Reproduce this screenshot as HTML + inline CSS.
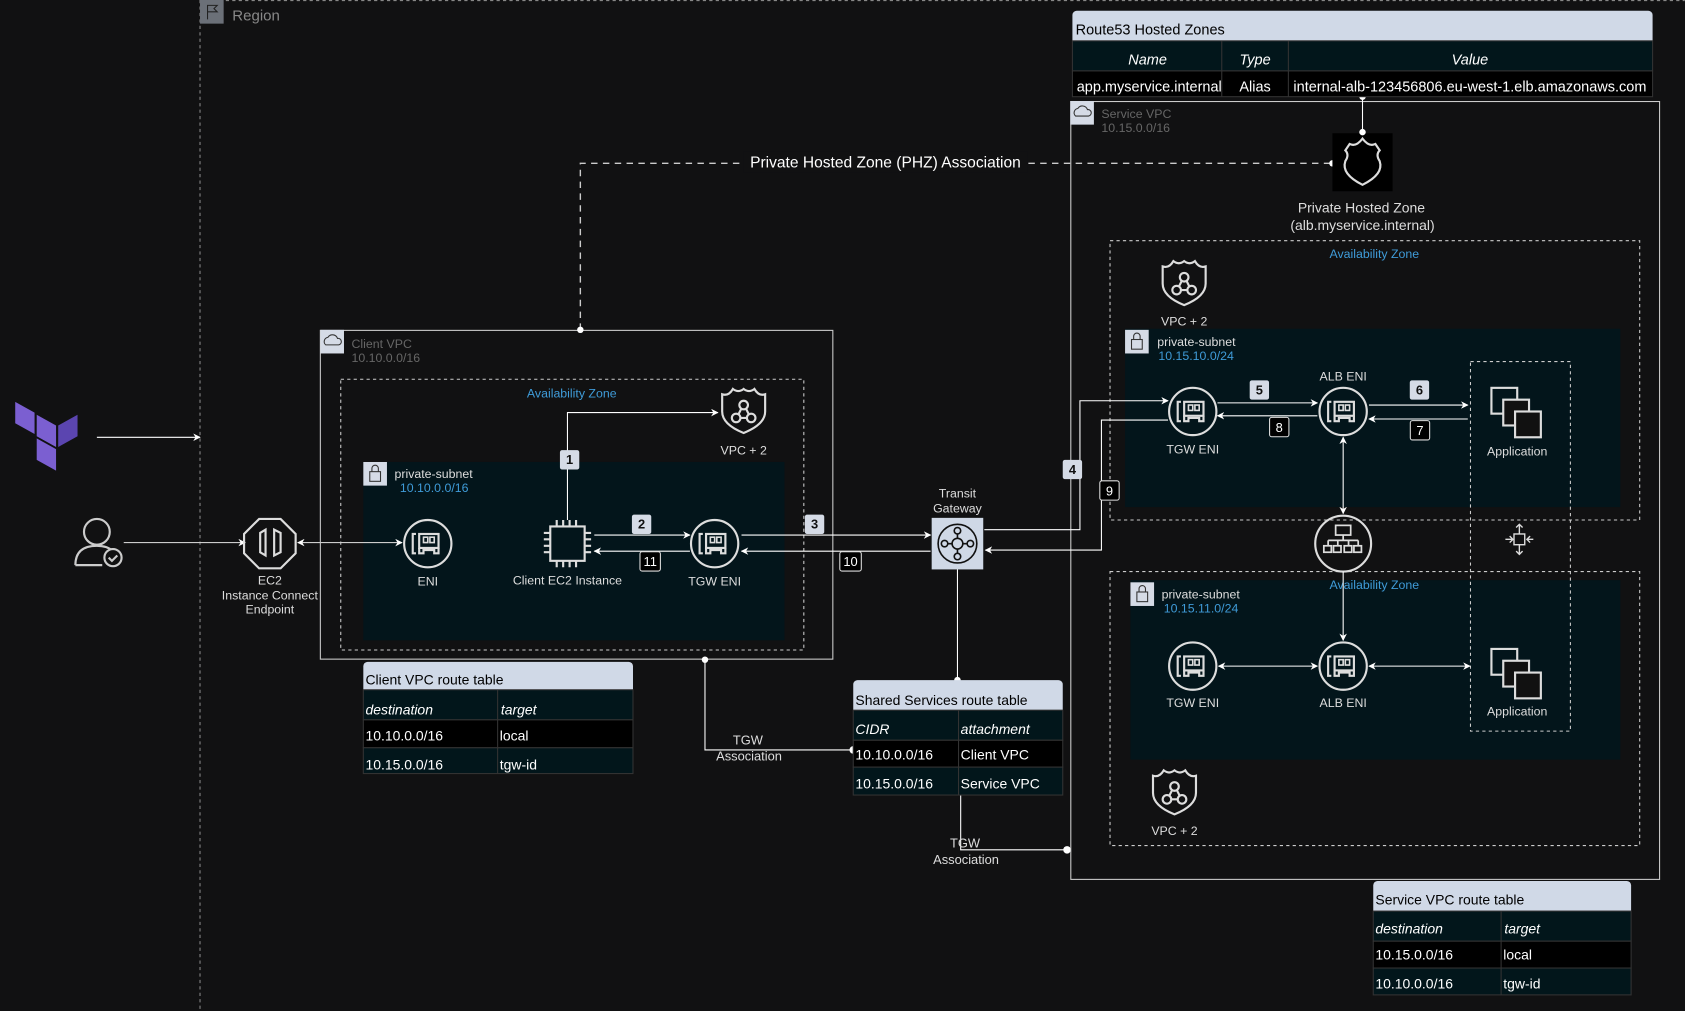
<!DOCTYPE html>
<html><head><meta charset="utf-8"><style>
html,body{margin:0;padding:0;background:#111112;}
svg{display:block;}
text{font-family:"Liberation Sans",sans-serif;}
</style></head><body>
<svg width="1685" height="1011" viewBox="0 0 1568 941" xmlns="http://www.w3.org/2000/svg">
<defs>
<marker id="a" viewBox="0 0 10 10" refX="9" refY="5" markerWidth="7" markerHeight="7" orient="auto-start-reverse"><path d="M0,0 L10,5 L0,10 L3,5 z" fill="#fff"/></marker>
<g id="eni"><circle r="22" fill="none" stroke="#ddd" stroke-width="2"/><path d="M-11,-9 h-3 v18 h3" fill="none" stroke="#ddd" stroke-width="2"/><rect x="-8" y="-9" width="18" height="13" fill="none" stroke="#ddd" stroke-width="2"/><rect x="-4" y="-6" width="4" height="5" fill="none" stroke="#ddd" stroke-width="1.5"/><rect x="2" y="-6" width="4" height="5" fill="none" stroke="#ddd" stroke-width="1.5"/><path d="M-8,4 v5 h4 v-3 h10 v3 h4 v-5" fill="none" stroke="#ddd" stroke-width="2"/></g>
<g id="vpc"><path d="M-20,-16 q6,2 10,-5 q5,4 10,0 q5,4 10,0 q4,7 10,5 v16 q0,12 -20,20 q-20,-8 -20,-20z" fill="none" stroke="#ddd" stroke-width="2"/><circle cx="0" cy="-6" r="4" fill="none" stroke="#ddd" stroke-width="2"/><circle cx="-7" cy="6" r="4" fill="none" stroke="#ddd" stroke-width="2"/><circle cx="7" cy="6" r="4" fill="none" stroke="#ddd" stroke-width="2"/><path d="M-2,-3 L-5,3 M2,-3 L5,3 M-3,6 H3" stroke="#ddd" stroke-width="2"/></g>
<g id="app"><rect x="-24" y="-22" width="24" height="24" fill="none" stroke="#ddd" stroke-width="2"/><rect x="-13" y="-11" width="24" height="24" fill="#111" stroke="#ddd" stroke-width="2"/><rect x="-2" y="0" width="24" height="24" fill="#111" stroke="#ddd" stroke-width="2"/></g>
<g id="lock"><rect x="0" y="0" width="22" height="22" fill="#d5dbe6"/><rect x="6" y="9" width="10" height="9" fill="none" stroke="#333" stroke-width="1"/><path d="M8,9 v-3 a3,3 0 0 1 6,0 v3" fill="none" stroke="#333" stroke-width="1"/></g>
<g id="cloud"><rect x="0" y="0" width="22" height="22" fill="#d5dbe6"/><path d="M5,14 a4,4 0 0 1 2,-7 a5,5 0 0 1 9,1 a3,3 0 0 1 1,6z" fill="none" stroke="#333" stroke-width="1"/></g>
</defs>

<!-- Region -->
<line x1="186" y1="0" x2="186" y2="941" stroke="#888" stroke-dasharray="3,3"/>
<line x1="186" y1="0.5" x2="1568" y2="0.5" stroke="#888" stroke-dasharray="3,3"/>
<rect x="186" y="0" width="22" height="22" fill="#6b7078"/>
<path d="M193,18 V5 h9 l-3,3 l3,3 h-9" fill="none" stroke="#222" stroke-width="1"/>
<text x="216" y="19" font-size="14" fill="#888">Region</text>

<!-- Terraform -->
<g fill="#7b5fd1"><path d="M14,374 L32,384 L32,404 L14,394z"/><path d="M34,386 L52,396 L52,416 L34,406z"/><path d="M54,396 L72,386 L72,406 L54,416z" fill="#5b45b0"/><path d="M34,408 L52,418 L52,438 L34,428z"/></g>
<line x1="90" y1="407" x2="186" y2="407" stroke="#fff" marker-end="url(#a)"/>

<!-- user -->
<circle cx="90" cy="495" r="12" fill="none" stroke="#ccc" stroke-width="2"/>
<path d="M70,526 q0,-18 20,-18 q10,0 15,5" fill="none" stroke="#ccc" stroke-width="2"/><path d="M70,526 h25" stroke="#ccc" stroke-width="2"/>
<circle cx="105" cy="519" r="8" fill="#111" stroke="#ccc" stroke-width="2"/><path d="M101,519 l3,3 l5,-5" fill="none" stroke="#ccc" stroke-width="2"/>
<line x1="115" y1="505" x2="228" y2="505" stroke="#ccc" marker-end="url(#a)"/>

<!-- EC2 ICE -->
<path d="M241,483 h20 l14,14 v18 l-14,14 h-20 l-14,-14 v-18z" fill="none" stroke="#ddd" stroke-width="2"/>
<path d="M247,493 v24 l-5,-3 v-18z M255,493 v24 l6,-3 v-18z" fill="none" stroke="#ddd" stroke-width="2"/>
<text x="251" y="544" font-size="11.5" fill="#ddd" text-anchor="middle">EC2</text>
<text x="251" y="558" font-size="11.5" fill="#ddd" text-anchor="middle">Instance Connect</text>
<text x="251" y="571" font-size="11.5" fill="#ddd" text-anchor="middle">Endpoint</text>

<!-- Client VPC -->
<rect x="298" y="307.5" width="477" height="306" fill="none" stroke="#ccc"/>
<use href="#cloud" x="298" y="307"/>
<text x="327" y="324" font-size="11.5" fill="#666">Client VPC</text>
<text x="327" y="337" font-size="11.5" fill="#666">10.10.0.0/16</text>
<rect x="317" y="353" width="431" height="252" fill="none" stroke="#ccc" stroke-dasharray="3,3"/>
<text x="532" y="370" font-size="11.5" fill="#3f9bd8" text-anchor="middle">Availability Zone</text>
<rect x="338" y="430" width="392" height="166" fill="#03151b"/>
<use href="#lock" x="338" y="430"/>
<text x="367" y="445" font-size="11.5" fill="#ddd">private-subnet</text>
<text x="372" y="458" font-size="11.5" fill="#3f9bd8">10.10.0.0/16</text>
<line x1="277" y1="505" x2="374" y2="505" stroke="#ccc" marker-start="url(#a)" marker-end="url(#a)"/>
<use href="#eni" x="398" y="506"/>
<text x="398" y="545" font-size="11.5" fill="#ddd" text-anchor="middle">ENI</text>
<g stroke="#ddd" stroke-width="2" fill="none"><rect x="512" y="490" width="32" height="32"/>
<path d="M518,490v-6M524,490v-6M530,490v-6M536,490v-6M518,522v6M524,522v6M530,522v6M536,522v6M512,496h-6M512,502h-6M512,508h-6M512,514h-6M544,496h6M544,502h6M544,508h6M544,514h6"/></g>
<text x="528" y="544" font-size="11.5" fill="#ddd" text-anchor="middle">Client EC2 Instance</text>
<use href="#eni" x="665" y="506"/>
<text x="665" y="545" font-size="11.5" fill="#ddd" text-anchor="middle">TGW ENI</text>
<use href="#vpc" x="692" y="383"/>
<text x="692" y="423" font-size="11.5" fill="#ddd" text-anchor="middle">VPC + 2</text>
<polyline points="528,484 528,384 668,384" fill="none" stroke="#fff" marker-end="url(#a)"/>
<line x1="553" y1="498" x2="642" y2="498" stroke="#fff" marker-end="url(#a)"/>
<line x1="642" y1="513" x2="553" y2="513" stroke="#fff" marker-end="url(#a)"/>
<line x1="690" y1="498" x2="866" y2="498" stroke="#fff" marker-end="url(#a)"/>
<line x1="866" y1="513" x2="690" y2="513" stroke="#fff" marker-end="url(#a)"/>

<!-- PHZ dashed -->
<polyline points="540,307 540,152 1240,152" fill="none" stroke="#ccc" stroke-width="1.3" stroke-dasharray="6,5"/>
<circle cx="540" cy="307" r="3" fill="#fff"/><circle cx="1240" cy="152" r="3" fill="#fff"/>
<rect x="692" y="141" width="264" height="20" fill="#111112"/>
<text x="824" y="156" font-size="14.5" fill="#fff" text-anchor="middle">Private Hosted Zone (PHZ) Association</text>

<!-- TGW -->
<text x="891" y="463" font-size="11.5" fill="#ddd" text-anchor="middle">Transit</text>
<text x="891" y="477" font-size="11.5" fill="#ddd" text-anchor="middle">Gateway</text>
<rect x="867" y="482" width="48" height="48" fill="#cfd8e6"/>
<g fill="none" stroke="#111" stroke-width="1.5"><circle cx="891" cy="506" r="18"/><circle cx="891" cy="506" r="5"/><circle cx="891" cy="494" r="3"/><circle cx="891" cy="518" r="3"/><circle cx="879" cy="506" r="3"/><circle cx="903" cy="506" r="3"/><path d="M891,497v4M891,511v4M882,506h4M896,506h4"/></g>
<polyline points="891,530 891,633" fill="none" stroke="#fff"/><circle cx="891" cy="633" r="3" fill="#fff"/>
<polyline points="656,614 656,698 794,698" fill="none" stroke="#fff"/><circle cx="656" cy="614" r="3" fill="#fff"/><circle cx="794" cy="698" r="3.5" fill="#fff"/>
<text x="696" y="693" font-size="12" fill="#ddd" text-anchor="middle">TGW</text>
<text x="697" y="708" font-size="12" fill="#ddd" text-anchor="middle">Association</text>
<polyline points="894,740 894,791 993,791" fill="none" stroke="#fff"/><circle cx="993" cy="791" r="3.5" fill="#fff"/>
<text x="898" y="789" font-size="12" fill="#ddd" text-anchor="middle">TGW</text>
<text x="899" y="804" font-size="12" fill="#ddd" text-anchor="middle">Association</text>

<!-- Service VPC -->
<rect x="996.5" y="94.5" width="548" height="724" fill="none" stroke="#ccc"/>
<use href="#cloud" x="996" y="94"/>
<text x="1025" y="110" font-size="11.5" fill="#666">Service VPC</text>
<text x="1025" y="123" font-size="11.5" fill="#666">10.15.0.0/16</text>
<rect x="1240" y="124" width="56" height="54" fill="#000"/>
<path d="M1256,134 q6,3 12,-5 q6,8 12,5 l4,6 q-4,4 0,10 q4,12 -16,22 q-20,-10 -16,-22 q4,-6 0,-10z" fill="none" stroke="#ddd" stroke-width="2"/>
<line x1="1268" y1="90" x2="1268" y2="124" stroke="#fff"/><circle cx="1268" cy="90" r="3" fill="#fff"/><circle cx="1268" cy="123" r="3" fill="#fff"/>
<text x="1267" y="198" font-size="13" fill="#ddd" text-anchor="middle">Private Hosted Zone</text>
<text x="1268" y="214" font-size="13" fill="#ddd" text-anchor="middle">(alb.myservice.internal)</text>

<rect x="1033" y="224" width="493" height="260" fill="none" stroke="#ccc" stroke-dasharray="3,3"/>
<text x="1279" y="240" font-size="11.5" fill="#3f9bd8" text-anchor="middle">Availability Zone</text>
<use href="#vpc" x="1102" y="264"/>
<text x="1102" y="303" font-size="11.5" fill="#ddd" text-anchor="middle">VPC + 2</text>
<rect x="1047" y="306" width="461" height="166" fill="#03151b"/>
<use href="#lock" x="1047" y="307"/>
<text x="1077" y="322" font-size="11.5" fill="#ddd">private-subnet</text>
<text x="1078" y="335" font-size="11.5" fill="#3f9bd8">10.15.10.0/24</text>

<rect x="1033" y="532" width="493" height="255" fill="none" stroke="#ccc" stroke-dasharray="3,3"/>
<rect x="1052" y="540" width="456" height="167" fill="#03151b"/>
<text x="1279" y="548" font-size="11.5" fill="#3f9bd8" text-anchor="middle">Availability Zone</text>
<use href="#lock" x="1052" y="542"/>
<text x="1081" y="557" font-size="11.5" fill="#ddd">private-subnet</text>
<text x="1083" y="570" font-size="11.5" fill="#3f9bd8">10.15.11.0/24</text>
<use href="#vpc" x="1093" y="738"/>
<text x="1093" y="777" font-size="11.5" fill="#ddd" text-anchor="middle">VPC + 2</text>

<rect x="1368.5" y="336.5" width="93" height="344" fill="none" stroke="#ccc" stroke-dasharray="3,3"/>
<use href="#app" x="1412" y="383"/>
<text x="1412" y="424" font-size="11.5" fill="#ddd" text-anchor="middle">Application</text>
<use href="#app" x="1412" y="626"/>
<text x="1412" y="666" font-size="11.5" fill="#ddd" text-anchor="middle">Application</text>
<g stroke="#ddd" stroke-width="1.3" fill="none"><rect x="1409" y="497" width="10" height="10"/><path d="M1414,497v-9M1411,491l3,-3l3,3M1414,507v9M1411,513l3,3l3,-3M1401,502h6M1405,499l3,3l-3,3M1427,502h-6M1424,499l-3,3l3,3"/></g>

<polyline points="916,493 1005,493 1005,373 1087,373" fill="none" stroke="#fff" marker-end="url(#a)"/>
<polyline points="1087,391 1025,391 1025,512 917,512" fill="none" stroke="#fff" marker-end="url(#a)"/>

<use href="#eni" x="1110" y="383"/>
<text x="1110" y="422" font-size="11.5" fill="#ddd" text-anchor="middle">TGW ENI</text>
<use href="#eni" x="1250" y="383"/>
<text x="1250" y="354" font-size="11.5" fill="#ddd" text-anchor="middle">ALB ENI</text>
<line x1="1133" y1="375" x2="1226" y2="375" stroke="#fff" marker-end="url(#a)"/>
<line x1="1226" y1="387" x2="1133" y2="387" stroke="#fff" marker-end="url(#a)"/>
<line x1="1274" y1="377" x2="1366" y2="377" stroke="#fff" marker-end="url(#a)"/>
<line x1="1366" y1="390" x2="1274" y2="390" stroke="#fff" marker-end="url(#a)"/>
<line x1="1250" y1="407" x2="1250" y2="478" stroke="#fff" marker-start="url(#a)" marker-end="url(#a)"/>
<circle cx="1250" cy="506" r="26" fill="none" stroke="#ddd" stroke-width="2"/>
<g stroke="#ddd" stroke-width="1.6" fill="none"><rect x="1243" y="489" width="14" height="9"/><path d="M1250,498v5M1236,503h28M1236,503v5M1245,503v5M1255,503v5M1264,503v5"/><rect x="1232" y="508" width="7" height="6"/><rect x="1241" y="508" width="7" height="6"/><rect x="1251" y="508" width="7" height="6"/><rect x="1260" y="508" width="7" height="6"/></g>
<line x1="1250" y1="532" x2="1250" y2="596" stroke="#fff" marker-end="url(#a)"/>
<use href="#eni" x="1110" y="620"/>
<text x="1110" y="658" font-size="11.5" fill="#ddd" text-anchor="middle">TGW ENI</text>
<use href="#eni" x="1250" y="620"/>
<text x="1250" y="658" font-size="11.5" fill="#ddd" text-anchor="middle">ALB ENI</text>
<line x1="1134" y1="620" x2="1226" y2="620" stroke="#fff" marker-start="url(#a)" marker-end="url(#a)"/>
<line x1="1274" y1="620" x2="1368" y2="620" stroke="#fff" marker-start="url(#a)" marker-end="url(#a)"/>

<!-- number badges -->
<g font-size="12" font-weight="bold" text-anchor="middle">
<rect x="521" y="419" width="18" height="18" rx="2" fill="#d5dbe6"/><text x="530" y="432" fill="#111">1</text>
<rect x="588" y="479" width="18" height="18" rx="2" fill="#d5dbe6"/><text x="597" y="492" fill="#111">2</text>
<rect x="749" y="479" width="18" height="18" rx="2" fill="#d5dbe6"/><text x="758" y="492" fill="#111">3</text>
<rect x="989" y="428" width="18" height="18" rx="2" fill="#d5dbe6"/><text x="998" y="441" fill="#111">4</text>
<rect x="1163" y="354" width="18" height="18" rx="2" fill="#d5dbe6"/><text x="1172" y="367" fill="#111">5</text>
<rect x="1312" y="354" width="18" height="18" rx="2" fill="#d5dbe6"/><text x="1321" y="367" fill="#111">6</text>
</g>
<g font-size="12" text-anchor="middle">
<rect x="1312.5" y="391.5" width="18" height="18" rx="2" fill="#000" stroke="#ddd"/><text x="1321.5" y="405" fill="#fff">7</text>
<rect x="1181.5" y="388.5" width="18" height="18" rx="2" fill="#000" stroke="#ddd"/><text x="1190.5" y="402" fill="#fff">8</text>
<rect x="1023.5" y="447.5" width="18" height="18" rx="2" fill="#000" stroke="#ddd"/><text x="1032.5" y="461" fill="#fff">9</text>
<rect x="781.5" y="513.5" width="20" height="18" rx="2" fill="#000" stroke="#ddd"/><text x="791.5" y="527" fill="#fff">10</text>
<rect x="595.5" y="513.5" width="19" height="18" rx="2" fill="#000" stroke="#ddd"/><text x="605" y="527" fill="#fff">11</text>
</g>

<!-- Route53 table -->
<g font-size="13.5" fill="#fff">
<path d="M998,38 V14 a4,4 0 0 1 4,-4 h532 a4,4 0 0 1 4,4 V38z" fill="#d0d9e7"/>
<text x="1001" y="32" fill="#000">Route53 Hosted Zones</text>
<rect x="998" y="38" width="540" height="28" fill="#02161b" stroke="#333"/>
<rect x="998" y="66" width="540" height="24" fill="#000" stroke="#333"/>
<line x1="1137" y1="38" x2="1137" y2="90" stroke="#333"/><line x1="1199" y1="38" x2="1199" y2="90" stroke="#333"/>
<text x="1068" y="60" text-anchor="middle" font-style="italic">Name</text>
<text x="1168" y="60" text-anchor="middle" font-style="italic">Type</text>
<text x="1368" y="60" text-anchor="middle" font-style="italic">Value</text>
<text x="1002" y="85">app.myservice.internal</text>
<text x="1168" y="85" text-anchor="middle">Alias</text>
<text x="1368" y="85" text-anchor="middle">internal-alb-123456806.eu-west-1.elb.amazonaws.com</text>
</g>

<!-- Client route table -->
<g font-size="13" fill="#fff">
<path d="M338,642 V620 a4,4 0 0 1 4,-4 h243 a4,4 0 0 1 4,4 V642z" fill="#d0d9e7"/>
<text x="340" y="637" fill="#000">Client VPC route table</text>
<rect x="338" y="642" width="251" height="28" fill="#02161b" stroke="#333"/>
<rect x="338" y="670" width="251" height="26" fill="#000" stroke="#333"/>
<rect x="338" y="696" width="251" height="24" fill="#02161b" stroke="#333"/>
<line x1="463" y1="642" x2="463" y2="720" stroke="#333"/>
<text x="340" y="665" font-style="italic">destination</text><text x="466" y="665" font-style="italic">target</text>
<text x="340" y="689">10.10.0.0/16</text><text x="465" y="689">local</text>
<text x="340" y="716">10.15.0.0/16</text><text x="465" y="716">tgw-id</text>
</g>

<!-- Shared route table -->
<g font-size="13" fill="#fff">
<path d="M794,661 V637 a4,4 0 0 1 4,-4 h187 a4,4 0 0 1 4,4 V661z" fill="#d0d9e7"/>
<text x="796" y="656" fill="#000">Shared Services route table</text>
<rect x="794" y="661" width="195" height="28" fill="#02161b" stroke="#333"/>
<rect x="794" y="689" width="195" height="25" fill="#000" stroke="#333"/>
<rect x="794" y="714" width="195" height="26" fill="#02161b" stroke="#333"/>
<line x1="892" y1="661" x2="892" y2="740" stroke="#333"/>
<text x="796" y="683" font-style="italic">CIDR</text><text x="894" y="683" font-style="italic">attachment</text>
<text x="796" y="707">10.10.0.0/16</text><text x="894" y="707">Client VPC</text>
<text x="796" y="734">10.15.0.0/16</text><text x="894" y="734">Service VPC</text>
</g>

<!-- Service route table -->
<g font-size="13" fill="#fff">
<path d="M1278,848 V824 a4,4 0 0 1 4,-4 h232 a4,4 0 0 1 4,4 V848z" fill="#d0d9e7"/>
<text x="1280" y="842" fill="#000">Service VPC route table</text>
<rect x="1278" y="848" width="240" height="28" fill="#02161b" stroke="#333"/>
<rect x="1278" y="876" width="240" height="25" fill="#000" stroke="#333"/>
<rect x="1278" y="901" width="240" height="25" fill="#02161b" stroke="#333"/>
<line x1="1397" y1="848" x2="1397" y2="926" stroke="#333"/>
<text x="1280" y="869" font-style="italic">destination</text><text x="1400" y="869" font-style="italic">target</text>
<text x="1280" y="893">10.15.0.0/16</text><text x="1399" y="893">local</text>
<text x="1280" y="920">10.10.0.0/16</text><text x="1399" y="920">tgw-id</text>
</g>
</svg>
</body></html>
